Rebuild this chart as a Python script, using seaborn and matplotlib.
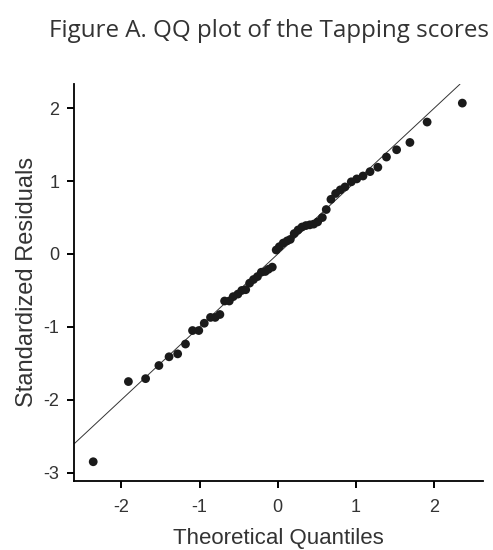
import matplotlib
matplotlib.use("Agg")
import matplotlib.pyplot as plt
import seaborn as sns
import pandas as pd
import numpy as np

# theoretical quantiles (x) and standardized residuals (y)
theoretical = [-2.36, -1.91, -1.69, -1.52, -1.39, -1.28, -1.18, -1.09, -1.01, -0.94,
               -0.86, -0.80, -0.74, -0.68, -0.62, -0.57, -0.51, -0.46, -0.41, -0.36,
               -0.31, -0.26, -0.21, -0.16, -0.12, -0.07,
               -0.02, 0.02, 0.07, 0.12, 0.16, 0.21, 0.26, 0.31, 0.36, 0.41,
               0.46, 0.51, 0.57, 0.62, 0.68, 0.74, 0.80, 0.86, 0.94, 1.01,
               1.09, 1.18, 1.28, 1.39, 1.52, 1.69, 1.91, 2.36]
residuals = [-2.85, -1.75, -1.71, -1.53, -1.41, -1.37, -1.235, -1.05, -1.05, -0.95,
             -0.87, -0.87, -0.83, -0.645, -0.645, -0.585, -0.55, -0.50, -0.49, -0.40,
             -0.35, -0.31, -0.25, -0.24, -0.21, -0.18,
             0.055, 0.10, 0.15, 0.18, 0.20, 0.28, 0.33, 0.37, 0.39, 0.40,
             0.41, 0.44, 0.50, 0.61, 0.75, 0.83, 0.88, 0.92, 0.99, 1.03,
             1.07, 1.13, 1.19, 1.33, 1.43, 1.53, 1.81, 2.07]

x_ticks = [-2, -1, 0, 1, 2]
y_ticks = [-3, -2, -1, 0, 1, 2]

df = pd.DataFrame({"Theoretical": theoretical, "Residual": residuals})

sns.set_style("ticks")
plt.rcParams["font.family"] = ["Liberation Sans", "DejaVu Sans"]

fig = plt.figure(figsize=(4.93, 5.5), dpi=100)
ax = fig.add_axes([0.151, 0.126, 0.828, 0.721])

# reference line y = x
ax.axline((0, 0), slope=1, color="#333333", lw=0.7, zorder=1)
sns.scatterplot(data=df, x="Theoretical", y="Residual", ax=ax, color="#1a1a1a",
                s=40, edgecolor="none", zorder=2)

ax.set_xlim(-2.60, 2.62)
ax.set_ylim(-3.11, 2.33)
ax.set_xticks(x_ticks)
ax.set_yticks(y_ticks)
ax.set_xticklabels([str(t) for t in x_ticks])
ax.set_yticklabels([str(t) for t in y_ticks])
ax.tick_params(axis="both", length=5, width=1.4, labelsize=13, labelcolor="#333333",
               color="black")
ax.tick_params(axis="x", pad=8)
ax.tick_params(axis="y", pad=6)
for side in ["left", "bottom"]:
    ax.spines[side].set_linewidth(1.3)
    ax.spines[side].set_color("black")
sns.despine(ax=ax)

ax.set_xlabel("Theoretical Quantiles", fontsize=16, color="#333333", labelpad=9)
ax.set_ylabel("Standardized Residuals", fontsize=17, color="#333333", labelpad=4)

fig.text(0.546, 0.944, "Figure A. QQ plot of the Tapping scores",
         ha="center", va="center", fontsize=17.4, color="#333333",
         family=["Open Sans", "DejaVu Sans"])

fig.savefig("out.png", dpi=100)
